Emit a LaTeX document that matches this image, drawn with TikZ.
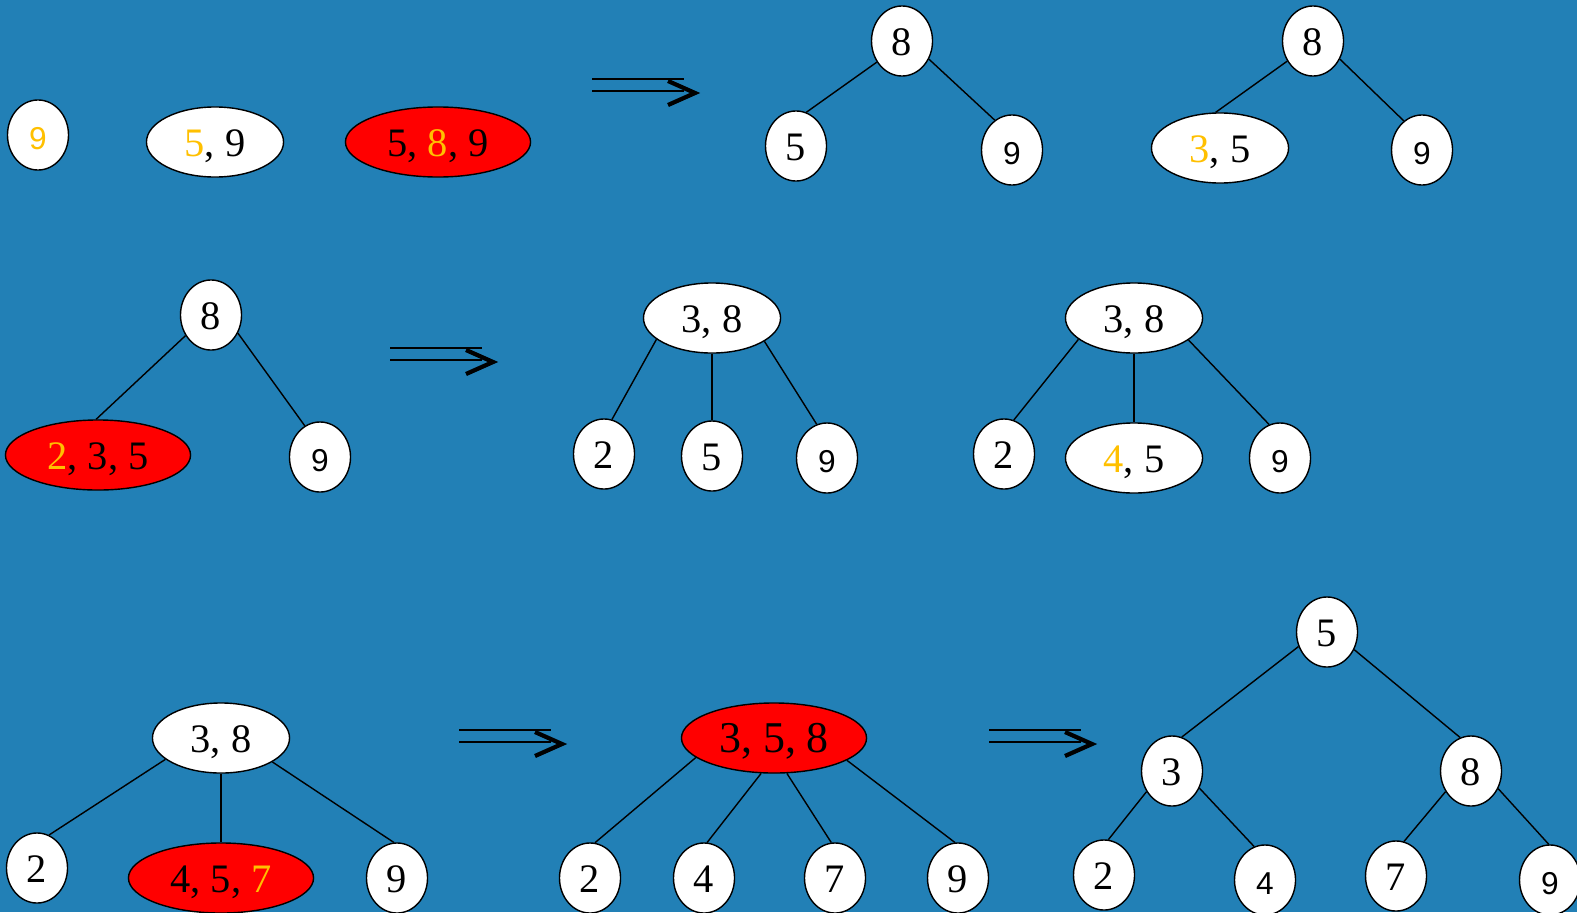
\documentclass[tikz,border=0pt]{standalone}
\usepackage{fontspec}
\setmainfont{Liberation Serif}
\newfontfamily\arialfont{Liberation Sans}
\usetikzlibrary{shapes.geometric}

\definecolor{slidebg}{RGB}{34,128,182}
\definecolor{newkey}{RGB}{255,192,0}
\definecolor{overfull}{RGB}{255,0,0}
\newcommand{\nk}[1]{\textcolor{newkey}{#1}}

\tikzset{
  one/.style={ellipse,draw,fill=white,inner sep=0pt,minimum width=0.61cm,minimum height=0.70cm,
    text height=0.83em,text depth=0pt,font=\fontsize{11.5}{12}\selectfont},
  two/.style={one,minimum width=1.37cm},
  three/.style={one,fill=overfull,minimum width=1.85cm},
  sans/.style={font=\arialfont\fontsize{9}{10}\selectfont},
  bigarrow/.pic={
    \draw[line width=0.45pt] (0,0) -- (92,0) (0,12) -- (92,12);
    \draw[line width=1.2pt] (76,2) -- (103,14) -- (76,26);
  }
}

\begin{document}
\begin{tikzpicture}[x=0.01cm,y=-0.01cm]

    \useasboundingbox (0,0) rectangle (1577,912);
    \fill[slidebg] (0,0) rectangle (1577,912);

    % row 1
    \node[one,sans]      (n9)  at (38, 135)   {\nk{9}};
    \node[two]           (n59) at (215, 142)  {\nk{5}, 9};
    \node[three]         (n589) at (438, 142) {5, \nk{8}, 9};
    \pic at (592, 79) {bigarrow};

    \node[one]           (a8) at (902, 41)    {8};
    \node[one]           (a5) at (796, 146)   {5};
    \node[one,sans]      (a9) at (1012, 150)  {9};

    \node[one]           (b8) at (1313, 41)   {8};
    \node[two]           (b35) at (1220, 148) {\nk{3}, 5};
    \node[one,sans]      (b9) at (1422, 150)  {9};

    \draw (a8.220) -- (a5.73);
    \draw (a8.326) -- (a9.120);
    \draw (b8.218) -- (b35.97);
    \draw (b8.326) -- (b9.122);

    % row 2
    \node[one]           (c8) at (211, 315)   {8};
    \node[three]         (c235) at (98, 455)  {\nk{2}, 3, 5};
    \node[one,sans]      (c9) at (320, 457)   {9};
    \pic at (390, 348) {bigarrow};

    \node[two]           (d38) at (712, 318)  {3, 8};
    \node[one]           (d2) at (604, 454)   {2};
    \node[one]           (d5) at (712, 456)   {5};
    \node[one,sans]      (d9) at (827, 458)   {9};

    \node[two]           (e38) at (1134, 318) {3, 8};
    \node[one]           (e2) at (1004, 454)  {2};
    \node[two]           (e45) at (1134, 458) {\nk{4}, 5};
    \node[one,sans]      (e9) at (1280, 458)  {9};

    \draw (c8.219) -- (c235.93);
    \draw (c8.326) -- (c9.116);
    \draw (d38.201) -- (d2.77);
    \draw (d38.south) -- (d5.north);
    \draw (d38.336) -- (d9.107);
    \draw (e38.201) -- (e2.74);
    \draw (e38.south) -- (e45.north);
    \draw (e38.338) -- (e9.108);

    % row 3
    \node[two]           (f38) at (221, 738)  {3, 8};
    \node[one]           (f2) at (37, 868)    {2};
    \node[three]         (f457) at (221, 878) {4, 5, \nk{7}};
    \node[one]           (f9) at (397, 878)   {9};
    \pic at (459, 730) {bigarrow};

    \node[three,font=\fontsize{12.5}{13}\selectfont] (g358) at (774, 738) {3, 5, 8};
    \node[one]           (g2) at (590, 878)   {2};
    \node[one]           (g4) at (704, 878)   {4};
    \node[one]           (g7) at (835, 878)   {7};
    \node[one]           (g9) at (958, 878)   {9};
    \pic at (989, 730) {bigarrow};

    \node[one]           (h5) at (1327, 632)  {5};
    \node[one]           (h3) at (1172, 771)  {3};
    \node[one]           (h8) at (1471, 771)  {8};
    \node[one]           (h2) at (1104, 875)  {2};
    \node[one,sans]      (h4) at (1265, 880)  {4};
    \node[one]           (h7) at (1396, 876)  {7};
    \node[one,sans]      (h9) at (1550, 880)  {9};

    \draw (f38.201) -- (f2.70);
    \draw (f38.south) -- (f457.north);
    \draw (f38.335) -- (f9.95);
    \draw (g358.194) -- (g2.82);
    \draw (g358.250) -- (g4.85);
    \draw (g358.290) -- (g7.96);
    \draw (g358.343) -- (g9.95);
    \draw (h5.207) -- (h3.74);
    \draw (h5.327) -- (h8.108);
    \draw (h3.219) -- (h2.83);
    \draw (h3.328) -- (h4.108);
    \draw (h8.219) -- (h7.77);
    \draw (h8.327) -- (h9.92);
  \end{tikzpicture}
\end{document}
